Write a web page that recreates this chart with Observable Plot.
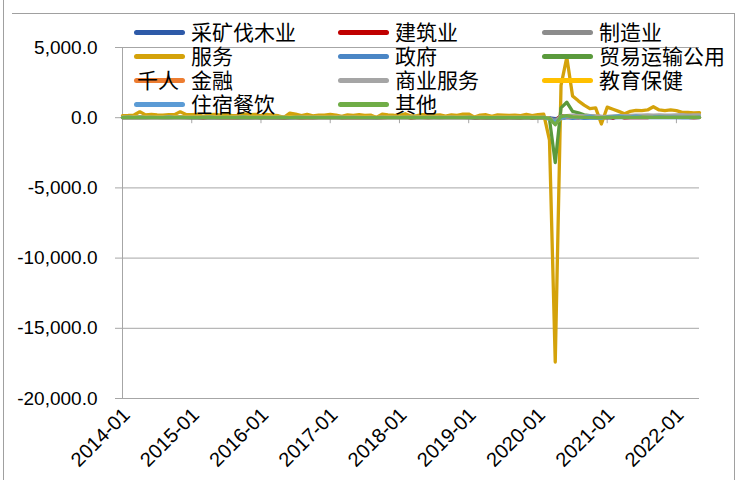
<!DOCTYPE html>
<html><head><meta charset="utf-8">
<script src="https://cdn.jsdelivr.net/npm/d3@7"></script>
<script src="https://cdn.jsdelivr.net/npm/@observablehq/plot@0.6"></script>
<style>
body{margin:0;background:#fff;}
#wrap{position:relative;width:740px;height:480px;overflow:hidden;background:#fff;}
#chart{position:absolute;left:0;top:0;}
.ln{position:absolute;background:#A0A0A0;}
.legtxt{position:absolute;font-family:"Noto Sans CJK SC",sans-serif;font-size:21px;line-height:24px;color:#000;white-space:nowrap;}
.legline{position:absolute;height:5px;border-radius:2.5px;}
</style></head>
<body><div id="wrap"><div id="chart"></div></div>
<script>
// categories
const months = d3.utcMonth.range(new Date(Date.UTC(2014,0,1)), new Date(Date.UTC(2022,5,1))).map(d3.utcFormat("%Y-%m"));
const yearTicks = ["2014-01","2015-01","2016-01","2017-01","2018-01","2019-01","2020-01","2021-01","2022-01"];
const yTicks = [-20000,-15000,-10000,-5000,0,5000];
const unitLabel = "千人";

const names = ["采矿伐木业","建筑业","制造业","服务","政府","贸易运输公用","金融","商业服务","教育保健","住宿餐饮","其他"];
const colors = ["#2E5AA8","#C00000","#8C8C8C","#D4A20A","#4A86C5","#5A9A3C","#ED7D31","#A5A5A5","#FFC000","#5B9BD5","#70AD47"];

const mining = [
 5,8,6,10,9,7,6,8,5,9,6,4,
 -2,-8,-12,-15,-14,-10,-9,-12,-10,-8,-10,-9,
 -12,-15,-10,-9,-10,-6,-3,-2,1,5,6,4,
 8,7,9,6,7,8,5,6,9,6,4,5,
 6,9,7,5,6,8,4,6,5,3,4,3,
 2,-2,0,-3,-4,-2,-3,-5,-4,-6,-5,-7,
 2,-4,-6,-60,-20,-5,-8,2,-2,2,8,4,
 -6,8,8,3,2,4,5,4,5,7,8,10,
 8,10,9,11,9];
const construction = [
 30,50,20,30,20,30,30,20,20,20,30,40,
 30,20,-10,40,20,10,20,10,10,30,40,40,
 20,30,30,10,-10,20,20,10,20,10,20,30,
 40,60,10,10,10,20,0,30,0,10,30,30,
 40,60,-10,20,20,10,20,30,30,20,30,30,
 50,-20,10,30,0,20,0,20,20,0,70,-20,
 40,30,-40,-200,150,100,30,0,60,80,30,50,
 50,-40,100,-10,10,0,20,10,70,40,30,30,
 20,50,20,10,30];
const manufacturing = [
 10,20,10,10,10,20,20,0,0,20,30,10,
 20,0,0,0,0,0,20,-10,-10,0,-10,0,
 0,-10,-20,0,-10,10,10,-20,-10,-10,10,0,
 10,20,10,10,0,10,10,20,0,30,30,20,
 20,30,20,20,20,20,30,10,20,20,20,30,
 10,0,0,10,0,10,0,0,-10,-40,50,0,
 0,10,-40,-150,40,60,30,20,20,30,20,20,
 10,20,40,10,30,20,30,20,30,40,50,30,
 30,40,40,50,30];
const services = [
 150,160,190,420,200,240,200,190,210,220,420,230,
 210,230,100,210,230,190,240,150,150,280,210,240,
 140,230,190,140,30,330,260,150,230,130,190,180,
 230,190,90,200,160,210,160,190,20,250,200,180,
 170,280,120,150,220,200,180,200,120,200,160,250,
 260,40,180,210,90,200,190,170,180,150,230,140,
 220,250,-1600,-17400,2300,4300,1550,1200,900,650,700,-450,
 750,600,450,280,450,520,500,550,780,550,500,550,
 500,380,380,350,360];
const government = [
 10,0,10,10,5,20,10,10,10,10,20,10,
 20,10,10,10,10,10,20,20,10,10,10,20,
 10,20,10,10,20,10,20,20,20,10,20,10,
 10,20,10,0,10,10,0,10,0,10,10,10,
 10,20,10,0,10,10,20,10,10,10,10,20,
 10,10,10,20,10,20,10,20,10,10,10,10,
 10,20,-20,-250,-80,60,-50,40,-40,-20,-10,-30,
 20,10,30,20,30,30,50,30,20,30,20,30,
 20,10,20,10,30];
const tradeTransport = [
 30,40,40,60,40,50,40,40,50,50,80,50,
 40,50,20,40,50,40,40,30,40,60,40,50,
 10,40,30,30,10,50,40,20,30,20,40,30,
 30,30,10,20,20,20,20,20,10,30,30,20,
 20,40,0,20,20,30,20,20,20,30,20,40,
 30,0,20,10,0,20,10,0,10,10,20,-10,
 20,20,-100,-3200,700,1100,450,350,200,150,100,80,
 60,80,100,50,80,120,60,80,100,120,70,90,
 80,60,70,50,40];
const finance = [
 5,10,10,15,10,15,10,5,15,10,10,15,
 10,15,10,15,20,10,15,10,15,10,15,10,
 15,10,15,10,10,5,15,10,15,10,5,10,
 10,15,10,15,10,5,10,15,10,10,10,15,
 10,15,5,10,10,5,10,5,10,10,5,10,
 5,10,10,15,10,5,10,15,10,10,15,10,
 10,15,-30,-450,-20,40,30,20,30,40,20,10,
 10,20,20,30,20,20,30,20,20,30,40,20,
 30,20,20,10,20];
const business = [
 40,40,50,50,40,50,40,40,50,40,50,40,
 30,40,30,40,50,40,30,30,40,50,40,30,
 20,30,40,30,20,40,30,20,40,30,40,30,
 30,40,30,30,40,30,40,30,30,40,30,30,
 30,40,30,40,40,30,40,30,30,40,30,40,
 30,30,40,30,30,40,30,30,40,30,30,20,
 20,30,-50,-300,100,150,180,150,120,150,130,110,
 100,120,130,150,160,180,190,200,190,200,180,190,
 200,210,190,200,200];
const eduHealth = [
 40,30,50,60,50,60,50,50,40,50,60,50,
 50,50,40,50,60,50,50,50,40,60,50,50,
 40,50,50,50,40,60,50,40,50,40,50,50,
 40,50,30,50,40,50,40,50,30,40,50,40,
 50,60,30,40,50,40,50,40,50,40,50,60,
 40,30,50,60,40,50,50,60,50,40,60,40,
 50,40,-60,-350,-80,150,50,40,30,40,20,-20,
 30,40,60,40,50,60,50,40,30,50,60,40,
 50,40,60,50,40];
const leisure = [
 20,30,20,40,30,20,30,20,40,30,20,30,
 30,20,30,40,20,30,20,30,20,40,30,20,
 20,30,20,30,20,10,30,20,20,30,20,20,
 20,30,20,20,30,20,10,20,0,30,20,20,
 20,30,20,20,30,20,30,20,20,20,30,20,
 20,10,20,20,10,20,20,30,20,20,30,20,
 20,30,-100,-300,-60,80,40,20,40,120,30,-40,
 50,80,130,60,50,120,60,40,50,80,60,50,
 60,40,50,40,50];
const other = [
 10,15,10,15,10,15,10,10,15,10,15,10,
 10,10,5,15,10,10,15,10,10,15,10,10,
 10,10,10,15,5,10,15,10,10,5,10,10,
 10,5,10,10,5,10,10,5,0,10,10,5,
 10,15,5,10,10,5,10,10,5,10,10,10,
 10,5,10,5,5,10,5,10,5,5,10,5,
 10,10,-50,-500,80,150,60,40,30,20,10,0,
 20,30,40,30,20,30,40,20,30,40,30,20,
 30,20,30,20,30];

const seriesValues = [mining,construction,manufacturing,services,government,tradeTransport,finance,business,eduHealth,leisure,other];
const rows = [];
seriesValues.forEach((vals,si)=>vals.forEach((v,i)=>rows.push({month:months[i], value:v, series:names[si]})));

const fmt = d3.formatLocale({decimal:".",thousands:",",grouping:[3],currency:["",""],minus:"-"}).format(",.1f");
const grey = "#A6A6A6";

const chart = Plot.plot({
  width:740, height:480,
  marginLeft:122, marginRight:41, marginTop:47, marginBottom:82,
  style:{fontFamily:"'Liberation Sans', Arial, sans-serif", background:"transparent", color:"#000"},
  x:{type:"point", domain:months, padding:0},
  y:{domain:[-20000,5000]},
  color:{domain:names, range:colors},
  marks:[
    Plot.gridY(yTicks,{stroke:grey, strokeOpacity:1, strokeWidth:1}),
    Plot.ruleX([months[0]],{stroke:grey}),
    Plot.ruleY([0],{stroke:grey}),
    Plot.ruleX(yearTicks,{y1:0, y2:0, insetBottom:-6, stroke:grey}),
    Plot.axisY(yTicks,{tickSize:7, tickPadding:18, tickFormat:fmt, fontSize:19, stroke:grey, fill:"#000", label:null}),
    Plot.axisX(yearTicks,{tickSize:0, tickRotate:-45, tickPadding:13, dx:4, fontSize:20, fill:"#000", label:null}),
    Plot.lineY(rows,{x:"month", y:"value", z:"series", stroke:"series", strokeWidth:3.3, strokeLinejoin:"round", strokeLinecap:"round"})
  ]
});
document.getElementById("chart").appendChild(chart);

const wrap = document.getElementById("wrap");
function addDiv(cls, css, text){ const d=document.createElement("div"); d.className=cls; Object.assign(d.style,css); if(text) d.textContent=text; wrap.appendChild(d); return d; }
// frame lines
addDiv("ln",{left:"12px",top:"13px",width:"722px",height:"1px"});
addDiv("ln",{left:"3px",top:"0px",width:"1px",height:"480px"});
addDiv("ln",{left:"734px",top:"13px",width:"1px",height:"467px"});
// legend
const colX = [134,338,542];
const rowY = [32,56,80,104];
names.forEach((n,i)=>{
  const c=i%3, r=Math.floor(i/3);
  addDiv("legline",{left:colX[c]+"px",top:(rowY[r]-2.5)+"px",width:"51px",background:colors[i]});
  addDiv("legtxt",{left:(colX[c]+57)+"px",top:(rowY[r]-13)+"px"},n);
});
addDiv("legtxt",{left:"137px",top:(80-13)+"px"},unitLabel);
</script></body></html>
